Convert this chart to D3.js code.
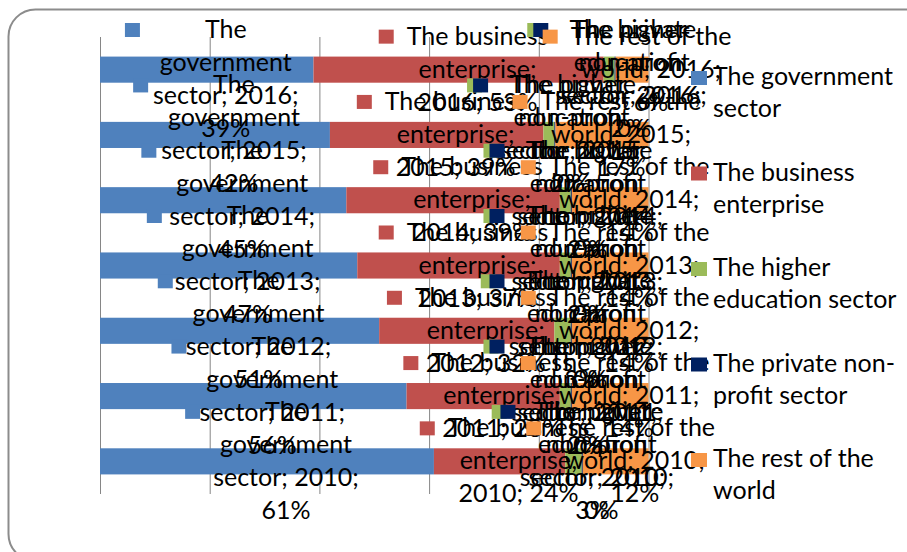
<!DOCTYPE html>
<html><head><meta charset="utf-8">
<script src="https://cdn.jsdelivr.net/npm/d3@7"></script>
<style>body{margin:0;background:#fff}svg{display:block}</style>
</head><body>
<script>
// ---- data ----
const years = ["2016","2015","2014","2013","2012","2011","2010"];
const seriesNames = ["The government sector","The business enterprise","The higher education sector","The private non-profit sector","The rest of the world"];
const government       = [39, 42, 45, 47, 51, 56, 61];
const business         = [53, 39, 39, 37, 32, 28, 24];
const higherEducation  = [2, 2, 2, 2, 3, 2, 3];
const privateNonProfit = [0.2, 0.2, 0.2, 0.2, 0.2, 0.2, 0.2];
const restOfWorld      = [6, 17, 14, 14, 14, 14, 12];
const xTicks = [0, 20, 40, 60, 80, 100];
const colors = ["#4F81BD","#C0504D","#9BBB59","#002060","#F79646"];

const seriesValues = [government, business, higherEducation, privateNonProfit, restOfWorld];
const keys = ["s0","s1","s2","s3","s4"];
const rows = years.map((yr,i)=>{const r={year:yr}; keys.forEach((k,j)=>r[k]=seriesValues[j][i]); return r;});

const W=907,H=552;
const svg=d3.select("body").append("svg").attr("width",W).attr("height",H);
const FONT="Lato, 'Open Sans', sans-serif";

const probe=svg.append("text").attr("font-family",FONT).attr("font-size",100).text("government");
const fs = 132/(probe.node().getComputedTextLength()/100);
probe.attr("font-size",fs);
function measure(s){probe.text(s);return probe.node().getComputedTextLength();}
// greedy wrap; breaks allowed at spaces and after hyphens
function wrap(str,maxW){
  const tokens=[];
  str.split(" ").forEach((w,wi)=>{
    const parts=w.split(/(?<=-)/);
    parts.forEach((p,pi)=>tokens.push({t:p,sp:(pi===0&&wi>0)}));
  });
  const lines=[];let cur="";
  tokens.forEach(tok=>{
    const t=cur?cur+(tok.sp?" ":"")+tok.t:tok.t;
    if(cur && measure(t)>maxW){lines.push(cur);cur=tok.t;} else cur=t;
  });
  if(cur)lines.push(cur);return lines;
}

// frame
svg.append("rect").attr("x",8.5).attr("y",9.5).attr("width",940).attr("height",551.5)
  .attr("rx",27).attr("fill","none").attr("stroke","#8c8c8c").attr("stroke-width",2);

const plotTop=37, plotBottom=494;
const x=d3.scaleLinear().domain([0,1]).range([100,648.5]);
const y=d3.scaleBand().domain(years).range([plotTop,plotBottom]).paddingInner(0.6).paddingOuter(0.3);

// gridlines
const grid=svg.append("g").attr("transform",`translate(0,${plotBottom})`)
  .call(d3.axisBottom(x).tickValues(xTicks.map(v=>v/100)).tickSize(-(plotBottom-plotTop)).tickFormat(""));
grid.select(".domain").remove();
grid.selectAll(".tick line").attr("stroke","#868686").attr("stroke-width",1);

const stack=d3.stack().keys(keys).offset(d3.stackOffsetExpand)(rows);

// bars
stack.forEach((layer,j)=>{
  svg.append("g").selectAll("rect").data(layer).join("rect")
    .attr("x",d=>x(d[0])).attr("width",d=>Math.max(0,x(d[1])-x(d[0])))
    .attr("y",d=>y(d.data.year)).attr("height",y.bandwidth())
    .attr("fill",colors[j]);
});

// data labels
const LH=33, KEY=15, GAP=13, WRAP=166;
stack.forEach((layer,j)=>{
  const g=svg.append("g");
  layer.forEach((d,i)=>{
    const val=seriesValues[j][i];
    const txt=`${seriesNames[j]}; ${d.data.year}; ${Math.round(val)}%`;
    const lines=wrap(txt,WRAP);
    const maxW=d3.max(lines,measure);
    const cx=(x(d[0])+x(d[1]))/2;
    const tc=cx+19;
    const textLeft=tc-maxW/2;
    const bc=y(d.data.year)+y.bandwidth()/2;
    const first=Math.max(30, bc-(lines.length-1)*LH/2);
    g.append("rect").attr("x",textLeft-GAP-KEY).attr("y",first-7).attr("width",KEY).attr("height",14).attr("fill",colors[j]);
    lines.forEach((ln,k)=>{
      g.append("text").attr("x",tc).attr("y",first+k*LH+8).attr("text-anchor","middle")
        .attr("font-family",FONT).attr("font-size",fs).attr("fill","#000").text(ln);
    });
  });
});

// legend
const lg=svg.append("g");
seriesNames.forEach((n,j)=>{
  const base=85+j*95.5;
  lg.append("rect").attr("x",691).attr("y",base-14).attr("width",16).attr("height",14).attr("fill",colors[j]);
  wrap(n,192).forEach((ln,k)=>{
    lg.append("text").attr("x",713).attr("y",base+k*32).attr("font-family",FONT).attr("font-size",fs).attr("fill","#000").text(ln);
  });
});
probe.remove();
</script>
</body></html>
